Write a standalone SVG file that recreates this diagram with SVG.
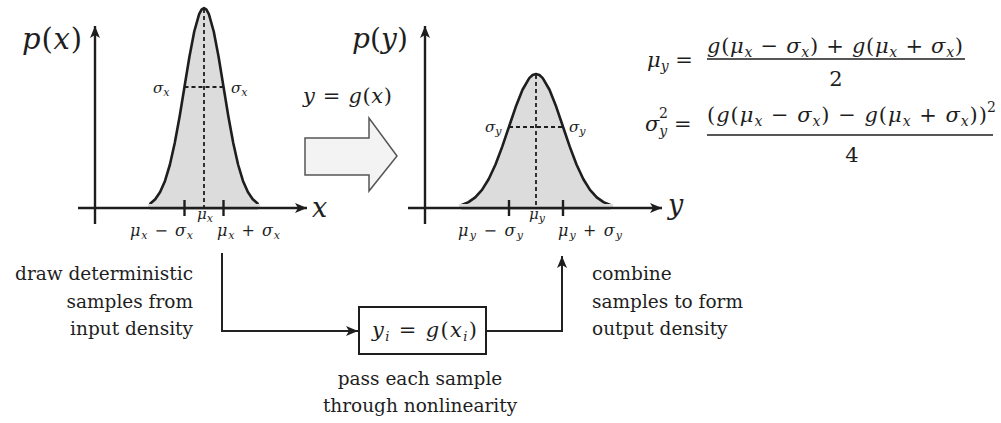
<svg xmlns="http://www.w3.org/2000/svg" width="1001" height="423" viewBox="0 0 1001 423">
<style>
text { font-family: "DejaVu Serif", serif; }
.m { font-style: italic; fill: #1e1e1e; }
.r { font-style: normal; }
.t { font-size: 18.5px; fill: #1e1e1e; }
.ax { stroke: #1e1e1e; stroke-width: 2.4; fill: none; }
.curve { stroke: #1e1e1e; stroke-width: 2.6; fill: #dcdcdc; stroke-linejoin: round; }
.dash { stroke: #1e1e1e; stroke-width: 1.8; stroke-dasharray: 4 3; fill: none; }
.tick { stroke: #1e1e1e; stroke-width: 2.4; }
.conn { stroke: #222; stroke-width: 2; fill: none; }
.bar { stroke: #1e1e1e; stroke-width: 1.4; }
</style>
<defs>
<marker id="ah" viewBox="0 0 12 10" refX="12" refY="5" markerWidth="12" markerHeight="10" markerUnits="userSpaceOnUse" orient="auto">
<path d="M0,0 L12,5 L0,10 L3,5 Z" fill="#1e1e1e"/>
</marker>
</defs>
<rect width="1001" height="423" fill="#ffffff"/>

<g id="plot-x">
<path class="curve" d="M150.38,208 L150.38,203.44 L155.25,199.21 L160.13,192.09 L165,180.93 L169.88,164.75 L174.75,143.07 L179.63,116.43 L184.5,86.69 L189.38,57.03 L194.25,31.5 L199.13,14.15 L201.56,9.56 L204,8 L206.44,9.56 L208.88,14.15 L213.75,31.5 L218.63,57.03 L223.5,86.69 L228.38,116.43 L233.25,143.07 L238.13,164.75 L243,180.93 L247.88,192.09 L252.75,199.21 L257.63,203.44 L257.63,208 Z"/>
<rect x="148" y="204" width="112" height="5" fill="#dcdcdc"/>
<line class="dash" x1="204" y1="9" x2="204" y2="208"/>
<line class="dash" x1="184.5" y1="87" x2="223.5" y2="87"/>
<line class="ax" x1="95" y1="224" x2="95" y2="26" marker-end="url(#ah)"/>
<line class="ax" x1="78" y1="208" x2="307" y2="208" marker-end="url(#ah)"/>
<line class="tick" x1="184.5" y1="200" x2="184.5" y2="216"/>
<line class="tick" x1="223.5" y1="200" x2="223.5" y2="216"/>
<text class="m" x="22" y="49" font-size="29" textLength="60" lengthAdjust="spacing">p<tspan class="r">(</tspan>x<tspan class="r">)</tspan></text>
<text class="m" x="312" y="217" font-size="27">x</text>
<text class="m" x="153" y="93" font-size="15">σ<tspan font-size="11" dy="3">x</tspan></text>
<text class="m" x="231" y="93" font-size="15">σ<tspan font-size="11" dy="3">x</tspan></text>
<text class="m" x="197" y="219" font-size="15">μ<tspan font-size="11" dy="3">x</tspan></text>
<text class="m" x="130" y="236" font-size="16" textLength="63" lengthAdjust="spacing">μ<tspan font-size="11" dy="3">x</tspan><tspan class="r" dy="-3"> − </tspan>σ<tspan font-size="11" dy="3">x</tspan></text>
<text class="m" x="217" y="236" font-size="16" textLength="63" lengthAdjust="spacing">μ<tspan font-size="11" dy="3">x</tspan><tspan class="r" dy="-3"> + </tspan>σ<tspan font-size="11" dy="3">x</tspan></text>
</g>

<g id="transform-arrow">
<path d="M305,138 H369 V118 L397,156 L369,191 V175 H305 Z" fill="#f3f3f3" stroke="#555" stroke-width="1.5"/>
<text class="m" x="303" y="103" font-size="21" textLength="89" lengthAdjust="spacing">y<tspan class="r"> = </tspan>g<tspan class="r">(</tspan>x<tspan class="r">)</tspan></text>
</g>

<g id="plot-y">
<path class="curve" d="M461.75,208 L461.75,204.95 L468.5,202.11 L475.25,197.34 L482,189.86 L488.75,179.02 L495.5,164.5 L502.25,146.65 L509,126.72 L515.75,106.85 L522.5,89.74 L529.25,78.12 L532.63,75.04 L536,74 L539.38,75.04 L542.75,78.12 L549.5,89.74 L556.25,106.85 L563,126.72 L569.75,146.65 L576.5,164.5 L583.25,179.02 L590,189.86 L596.75,197.34 L603.5,202.11 L610.25,204.95 L610.25,208 Z"/>
<rect x="459" y="204" width="154" height="5" fill="#dcdcdc"/>
<line class="dash" x1="536" y1="75" x2="536" y2="208"/>
<line class="dash" x1="509" y1="127" x2="563" y2="127"/>
<line class="ax" x1="425" y1="224" x2="425" y2="26" marker-end="url(#ah)"/>
<line class="ax" x1="408" y1="208" x2="662" y2="208" marker-end="url(#ah)"/>
<line class="tick" x1="509" y1="200" x2="509" y2="216"/>
<line class="tick" x1="563" y1="200" x2="563" y2="216"/>
<text class="m" x="352" y="48" font-size="28" textLength="56" lengthAdjust="spacing">p<tspan class="r">(</tspan>y<tspan class="r">)</tspan></text>
<text class="m" x="668" y="214" font-size="27">y</text>
<text class="m" x="485" y="132" font-size="15">σ<tspan font-size="11" dy="3">y</tspan></text>
<text class="m" x="569" y="132" font-size="15">σ<tspan font-size="11" dy="3">y</tspan></text>
<text class="m" x="529" y="219" font-size="15">μ<tspan font-size="11" dy="3">y</tspan></text>
<text class="m" x="458" y="236" font-size="16" textLength="65" lengthAdjust="spacing">μ<tspan font-size="11" dy="3">y</tspan><tspan class="r" dy="-3"> − </tspan>σ<tspan font-size="11" dy="3">y</tspan></text>
<text class="m" x="558" y="236" font-size="16" textLength="64" lengthAdjust="spacing">μ<tspan font-size="11" dy="3">y</tspan><tspan class="r" dy="-3"> + </tspan>σ<tspan font-size="11" dy="3">y</tspan></text>
</g>

<g id="formulas">
<text class="m" x="647" y="67" font-size="21">μ<tspan font-size="14" dy="4">y</tspan><tspan class="r" dy="-4"> =</tspan></text>
<text class="m" x="707" y="53" font-size="21" textLength="256" lengthAdjust="spacing">g<tspan class="r">(</tspan>μ<tspan font-size="14" dy="4">x</tspan><tspan class="r" dy="-4"> − </tspan>σ<tspan font-size="14" dy="4">x</tspan><tspan class="r" dy="-4">) + </tspan>g<tspan class="r">(</tspan>μ<tspan font-size="14" dy="4">x</tspan><tspan class="r" dy="-4"> + </tspan>σ<tspan font-size="14" dy="4">x</tspan><tspan class="r" dy="-4">)</tspan></text>
<line class="bar" x1="707" y1="59" x2="965" y2="59"/>
<text class="m r" x="836" y="86" font-size="21" text-anchor="middle">2</text>
<text class="m" x="645" y="131" font-size="21">σ<tspan font-size="14" dy="5">y</tspan><tspan class="r" dy="-5"> =</tspan></text>
<text class="m r" x="659" y="118" font-size="14">2</text>
<text class="m" x="707" y="122" font-size="21" textLength="280" lengthAdjust="spacing"><tspan class="r">(</tspan>g<tspan class="r">(</tspan>μ<tspan font-size="14" dy="4">x</tspan><tspan class="r" dy="-4"> − </tspan>σ<tspan font-size="14" dy="4">x</tspan><tspan class="r" dy="-4">) − </tspan>g<tspan class="r">(</tspan>μ<tspan font-size="14" dy="4">x</tspan><tspan class="r" dy="-4"> + </tspan>σ<tspan font-size="14" dy="4">x</tspan><tspan class="r" dy="-4">))</tspan></text>
<text class="m r" x="987" y="112" font-size="14">2</text>
<line class="bar" x1="707" y1="135" x2="993" y2="135"/>
<text class="m r" x="852" y="162" font-size="21" text-anchor="middle">4</text>
</g>

<g id="connectors">
<path class="conn" d="M222,253 V331 H358" marker-end="url(#ah)"/>
<path class="conn" d="M486,331 H562 V256" marker-end="url(#ah)"/>
</g>

<g id="node-sample-box">
<rect x="359" y="307" width="127" height="47" fill="#ffffff" stroke="#1e1e1e" stroke-width="2"/>
<text class="m" x="372" y="337" font-size="21" textLength="105" lengthAdjust="spacing">y<tspan font-size="13" dy="4">i</tspan><tspan class="r" dy="-4"> = </tspan>g<tspan class="r">(</tspan>x<tspan font-size="13" dy="4">i</tspan><tspan class="r" dy="-4">)</tspan></text>
</g>

<g id="label-draw">
<text class="t" x="193" y="280" text-anchor="end">draw deterministic</text>
<text class="t" x="193" y="308" text-anchor="end">samples from</text>
<text class="t" x="193" y="335" text-anchor="end">input density</text>
</g>

<g id="label-pass">
<text class="t" x="420" y="385" text-anchor="middle">pass each sample</text>
<text class="t" x="420" y="412" text-anchor="middle">through nonlinearity</text>
</g>

<g id="label-combine">
<text class="t" x="592" y="280">combine</text>
<text class="t" x="592" y="308">samples to form</text>
<text class="t" x="592" y="335">output density</text>
</g>
</svg>
